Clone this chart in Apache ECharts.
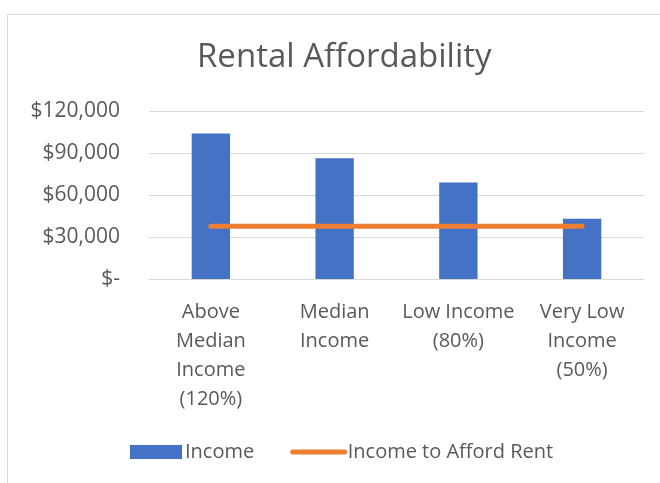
<!DOCTYPE html>
<html>
<head>
<meta charset="utf-8">
<script src="https://cdn.jsdelivr.net/npm/echarts@6/dist/echarts.min.js"></script>
<style>
  html, body { margin: 0; padding: 0; background: #fff; }
  #main { width: 660px; height: 483px; }
</style>
</head>
<body>
<div id="main"></div>
<script>
// categories and values
var categories = ['Above\nMedian\nIncome\n(120%)', 'Median\nIncome', 'Low Income\n(80%)', 'Very Low\nIncome\n(50%)'];
var income = [104000, 86300, 69000, 43000];
var affordRent = [37700, 37700, 37700, 37700];

var font = 'Open Sans';
var grey = '#595959';

var myChart = echarts.init(document.getElementById('main'));
myChart.setOption({
  animation: false,
  textStyle: { fontFamily: font },
  graphic: [{
    type: 'rect',
    left: 5, top: 12,
    shape: { width: 700, height: 520 },
    style: { fill: 'none', stroke: '#d9d9d9', lineWidth: 1 },
    silent: true
  }],
  title: {
    text: 'Rental Affordability',
    left: 192,
    top: 36,
    textStyle: { fontFamily: font, fontSize: 33, fontWeight: 'normal', color: grey }
  },
  legend: {
    bottom: 16,
    left: 125,
    itemGap: 36,
    itemWidth: 52,
    itemHeight: 14,
    textStyle: { fontFamily: font, fontSize: 20, color: grey, padding: [0, 0, 0, -2] },
    data: [
      { name: 'Income', icon: 'rect' },
      { name: 'Income to Afford Rent', itemStyle: { opacity: 0 }, lineStyle: { width: 5, cap: 'round' } }
    ]
  },
  grid: { left: 149, right: 16, top: 111, bottom: 204 },
  xAxis: {
    type: 'category',
    data: categories,
    axisLine: { lineStyle: { color: '#d9d9d9' } },
    axisTick: { show: false },
    axisLabel: { fontFamily: font, fontSize: 20, color: grey, lineHeight: 29, margin: 19, interval: 0 }
  },
  yAxis: {
    type: 'value',
    min: 0, max: 120000, interval: 30000,
    axisLine: { show: false },
    axisTick: { show: false },
    splitLine: { lineStyle: { color: '#d9d9d9' } },
    axisLabel: {
      fontFamily: font, fontSize: 21, color: grey, margin: 29,
      formatter: function (v) { return v === 0 ? '$-' : '$' + v.toLocaleString('en-US'); }
    }
  },
  series: [
    {
      name: 'Income',
      type: 'bar',
      data: income,
      barWidth: '31%',
      itemStyle: { color: '#4472C4' }
    },
    {
      name: 'Income to Afford Rent',
      type: 'line',
      data: affordRent,
      symbol: 'none',
      lineStyle: { color: '#ED7D31', width: 5, cap: 'round' },
      itemStyle: { color: '#ED7D31' }
    }
  ]
});
</script>
</body>
</html>
